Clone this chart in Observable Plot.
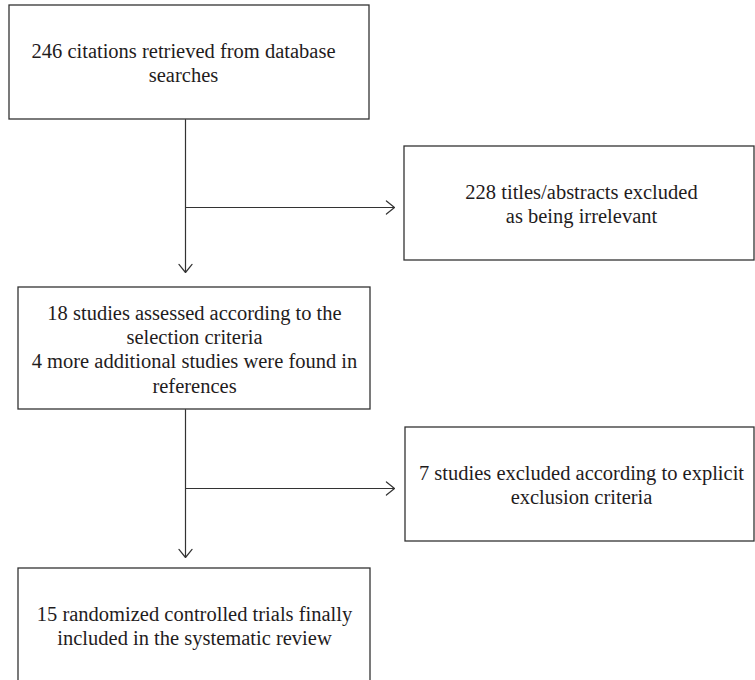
<!DOCTYPE html>
<html>
<head>
<meta charset="utf-8">
<script src="https://cdn.jsdelivr.net/npm/d3@7"></script>
<script src="https://cdn.jsdelivr.net/npm/@observablehq/plot@0.6"></script>
<style>
  html, body { margin: 0; padding: 0; background: #fff; overflow: hidden; }
  #chart svg { display: block; }
</style>
</head>
<body>
<div id="chart"></div>
<script>
// ---- Data: flowchart box texts ----
const boxLabels = [
  "246 citations retrieved from database\nsearches",
  "228 titles/abstracts excluded\nas being irrelevant",
  "18 studies assessed according to the\nselection criteria\n4 more additional studies were found in\nreferences",
  "7 studies excluded according to explicit\nexclusion criteria",
  "15 randomized controlled trials finally\nincluded in the systematic review"
];

// ---- Layout (chart coordinate space 0..755 x 0..680) ----
const boxLeft   = [9, 404, 18, 405, 18];
const boxRight  = [369, 754, 370, 754, 370];
const boxTop    = [5, 146, 287, 427, 568];
const boxBottom = [119, 260, 409, 541, 682];
const textX     = [183, 581, 194, 581, 194];

// connectors
const arrowX1 = [185, 185, 185, 185];
const arrowY1 = [119, 207, 409, 488];
const arrowX2 = [185, 394, 185, 394];
const arrowY2 = [272, 207, 557, 488];

const boxes = boxLabels.map((label, i) => ({
  label, x1: boxLeft[i], x2: boxRight[i], y1: boxTop[i], y2: boxBottom[i], tx: textX[i]
}));
const arrows = arrowX1.map((_, i) => ({
  x1: arrowX1[i], y1: arrowY1[i], x2: arrowX2[i], y2: arrowY2[i]
}));

const FONT = '"Liberation Serif", "Times New Roman", serif';

const chart = Plot.plot({
  width: 755,
  height: 680,
  margin: 0,
  x: {domain: [0, 755], axis: null},
  y: {domain: [0, 680], reverse: true, axis: null},
  style: {background: "#fff"},
  marks: [
    Plot.rect(boxes, {
      x1: "x1", x2: "x2", y1: "y1", y2: "y2",
      fill: "#fff", stroke: "#333", strokeWidth: 1.3
    }),
    Plot.arrow(arrows, {
      x1: "x1", y1: "y1", x2: "x2", y2: "y2",
      stroke: "#333", strokeWidth: 1.2, headAngle: 78, headLength: 13
    }),
    Plot.text(boxes, {
      x: "tx",
      y: d => (d.y1 + d.y2) / 2,
      text: "label",
      fontSize: 20.5,
      lineHeight: 1.18,
      fontFamily: FONT,
      fill: "#1f1c1d",
      textAnchor: "middle",
      lineAnchor: "middle"
    })
  ]
});
document.getElementById("chart").appendChild(chart);
</script>
</body>
</html>
